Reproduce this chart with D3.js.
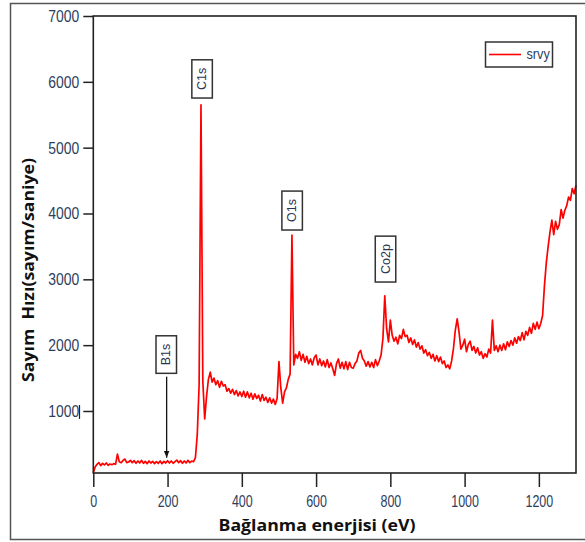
<!DOCTYPE html>
<html>
<head>
<meta charset="utf-8">
<script src="https://cdn.jsdelivr.net/npm/d3@7"></script>
<style>
  body { margin: 0; background: #fff; }
  svg { display: block; }
</style>
</head>
<body>
<svg id="chart" width="585" height="542"></svg>
<script>
// XPS survey scan (srvy): binding energy grid and measured count rate
const seriesName = "srvy";
const scanStart = 0;     // eV
const scanStep = 5;      // eV between readings
const counts = [
  60, 150, 190, 215, 170, 205, 180, 210, 175, 195, 185, 200, 190, 345, 230, 215, 250, 270, 215, 225,
  250, 215, 245, 205, 240, 210, 250, 205, 235, 200, 240, 210, 235, 200, 230, 205, 240, 200, 235, 210,
  245, 210, 240, 205, 230, 255, 215, 245, 205, 240, 210, 250, 215, 240, 230, 290, 640, 1400, 5650, 1450,
  880, 1220, 1480, 1590, 1440, 1500, 1400, 1460, 1360, 1450, 1380, 1400, 1300, 1340, 1270, 1330, 1250, 1310, 1230, 1290,
  1220, 1300, 1210, 1290, 1200, 1270, 1180, 1260, 1190, 1240, 1150, 1250, 1160, 1210, 1130, 1200, 1120, 1180, 1100, 1190,
  1750, 1350, 1120, 1290, 1350, 1480, 1560, 3670, 1700, 1860, 1800, 1900, 1770, 1860, 1740, 1830, 1720, 1790, 1700, 1810,
  1850, 1700, 1790, 1690, 1760, 1670, 1780, 1660, 1730, 1640, 1540, 1720, 1790, 1650, 1740, 1640, 1750, 1630, 1740, 1660,
  1650, 1720, 1760, 1880, 1920, 1800, 1760, 1680, 1750, 1670, 1740, 1660, 1780, 1690, 1760, 1850, 2100, 2750, 2250, 2050,
  2380, 2150, 2060, 2120, 2020, 2150, 2100, 2240, 2130, 2150, 2040, 2110, 2010, 2080, 1970, 2040, 1940, 1990, 1880, 1930,
  1840, 1890, 1800, 1860, 1760, 1840, 1750, 1820, 1720, 1760, 1660, 1700, 1640, 1760, 1950, 2230, 2400, 2200, 1940, 2000,
  2090, 1900, 2010, 2060, 1920, 1980, 1880, 1960, 1850, 1900, 1800, 1870, 1820, 1940, 1880, 2380, 1920, 1990, 1900, 2000,
  1920, 2020, 1930, 2050, 1980, 2070, 2000, 2110, 2030, 2130, 2070, 2190, 2080, 2210, 2150, 2270, 2180, 2330, 2240, 2350,
  2250, 2330, 2450, 2900, 3250, 3500, 3720, 3900, 3680, 3880, 3760, 3830, 4060, 3930, 4050, 4120, 4250, 4200, 4380, 4300, 4430
];

const xTicks = [0, 200, 400, 600, 800, 1000, 1200];
const yTicks = [1000, 2000, 3000, 4000, 5000, 6000, 7000];

// peak labels: name, energy at the box centre, count level at the box bottom
const peakNames = ["C1s", "O1s", "Co2p", "B1s"];
const peakEnergies = [293, 535.5, 787, 196.5];
const peakBoxBase = [5754, 3749, 2959, 1572];
// B1s pointer arrow (energy, from count, to count)
const arrowEnergy = 197.5;
const arrowFrom = 1521;
const arrowTo = 290;

const xTitle = "Bağlanma enerjisi (eV)";
const yTitle = "Sayım  Hızı(sayım/saniye)";

const svg = d3.select("#chart");
const W = 585, H = 542;

const x = d3.scaleLinear().domain([0, 1300]).range([93.3, 576]);
const y = d3.scaleLinear().domain([58, 7000]).range([473, 16]);

const tickFont = "'Liberation Sans', Arial, sans-serif";
const tickColor = "#2f3d5c";

// outer border
svg.append("path")
  .attr("d", `M${W + 5},3.5 H10.5 V539.5 H${W + 5}`)
  .attr("fill", "none").attr("stroke", "#555").attr("stroke-width", 1.5);

// y axis (condensed digits)
const ySX = 0.82;
const gy = svg.append("g").attr("transform", `translate(${x.range()[0]},0)`)
  .call(d3.axisLeft(y).tickValues(yTicks).tickSize(10).tickPadding(4).tickFormat(d3.format("d")));
gy.select(".domain").remove();
gy.selectAll(".tick line").attr("stroke", "#222").attr("stroke-width", 1.5);
gy.selectAll(".tick text")
  .attr("font-family", tickFont).attr("font-size", 17).attr("fill", tickColor)
  .attr("x", -14 / ySX).attr("transform", `scale(${ySX},1)`);

// small cursor mark beside the 1000 label
svg.append("line")
  .attr("x1", 79.5).attr("x2", 79.5)
  .attr("y1", y(1000) - 6).attr("y2", y(1000) + 8)
  .attr("stroke", "#222").attr("stroke-width", 1.2);

// x axis (condensed digits)
const xSX = 0.78;
const gx = svg.append("g").attr("transform", `translate(0,${y.range()[0]})`)
  .call(d3.axisBottom(x).tickValues(xTicks).tickSize(14).tickPadding(9).tickFormat(d3.format("d")));
gx.select(".domain").remove();
gx.selectAll(".tick line").attr("stroke", "#222").attr("stroke-width", 1.5);
gx.selectAll(".tick text")
  .attr("font-family", tickFont).attr("font-size", 16).attr("fill", tickColor)
  .attr("transform", `scale(${xSX},1)`);

// spectrum
const data = counts.map((c, i) => ({ e: scanStart + i * scanStep, c }));
svg.append("path")
  .datum(data)
  .attr("fill", "none")
  .attr("stroke", "#ff0000")
  .attr("stroke-width", 1.7)
  .attr("stroke-linejoin", "round")
  .attr("d", d3.line().x(d => x(d.e)).y(d => y(d.c)));

// plot frame
svg.append("rect")
  .attr("x", x.range()[0]).attr("y", y.range()[1])
  .attr("width", x.range()[1] - x.range()[0])
  .attr("height", y.range()[0] - y.range()[1])
  .attr("fill", "none").attr("stroke", "#222").attr("stroke-width", 1.6);

// peak label boxes (vertical text)
peakNames.forEach((name, i) => {
  const cx = x(peakEnergies[i]);
  const base = y(peakBoxBase[i]);
  const g = svg.append("g");
  const t = g.append("text")
    .attr("font-family", "'Liberation Sans', Arial, sans-serif")
    .attr("font-size", 12.5)
    .attr("fill", "#2b3550")
    .attr("text-anchor", "middle")
    .attr("dominant-baseline", "central")
    .text(name);
  const len = t.node().getComputedTextLength();
  const h = len + 16, w = 20.5;
  t.attr("transform", `translate(${cx},${base - h / 2}) rotate(-90)`);
  g.insert("rect", "text")
    .attr("x", cx - w / 2).attr("y", base - h)
    .attr("width", w).attr("height", h)
    .attr("fill", "#fff").attr("stroke", "#333").attr("stroke-width", 1.5);
});

// B1s arrow
svg.append("defs").append("marker")
  .attr("id", "arrowhead").attr("viewBox", "0 0 10 10")
  .attr("refX", 10).attr("refY", 5)
  .attr("markerWidth", 7).attr("markerHeight", 8)
  .attr("markerUnits", "userSpaceOnUse")
  .attr("orient", "auto")
  .append("path").attr("d", "M0,1 L10,5 L0,9 Z").attr("fill", "#111");
svg.append("line")
  .attr("x1", x(arrowEnergy)).attr("x2", x(arrowEnergy))
  .attr("y1", y(arrowFrom)).attr("y2", y(arrowTo))
  .attr("stroke", "#111").attr("stroke-width", 1.3)
  .attr("marker-end", "url(#arrowhead)");

// legend
const lg = svg.append("g");
lg.append("rect").attr("x", 485.5).attr("y", 42).attr("width", 67).attr("height", 25)
  .attr("fill", "#fff").attr("stroke", "#333").attr("stroke-width", 1.5);
lg.append("line").attr("x1", 489).attr("x2", 521).attr("y1", 54.5).attr("y2", 54.5)
  .attr("stroke", "#ff0000").attr("stroke-width", 1.6);
lg.append("text").attr("x", 526.5 / 0.82).attr("y", 59.5)
  .attr("transform", "scale(0.82,1)")
  .attr("font-family", tickFont).attr("font-size", 15.5).attr("fill", tickColor)
  .text(seriesName);

// axis titles
svg.append("text")
  .attr("x", 317).attr("y", 530.5)
  .attr("text-anchor", "middle")
  .attr("font-family", "'Open Sans', sans-serif").attr("font-weight", "bold")
  .attr("font-size", 16).attr("fill", "#111")
  .attr("textLength", 197).attr("lengthAdjust", "spacingAndGlyphs")
  .text(xTitle);
svg.append("text")
  .attr("transform", "translate(34,270) rotate(-90)")
  .attr("text-anchor", "middle")
  .attr("font-family", "'Open Sans', sans-serif").attr("font-weight", "bold")
  .attr("font-size", 16.5).attr("fill", "#111")
  .style("white-space", "pre")
  .attr("textLength", 224).attr("lengthAdjust", "spacingAndGlyphs")
  .text(yTitle);
</script>
</body>
</html>
